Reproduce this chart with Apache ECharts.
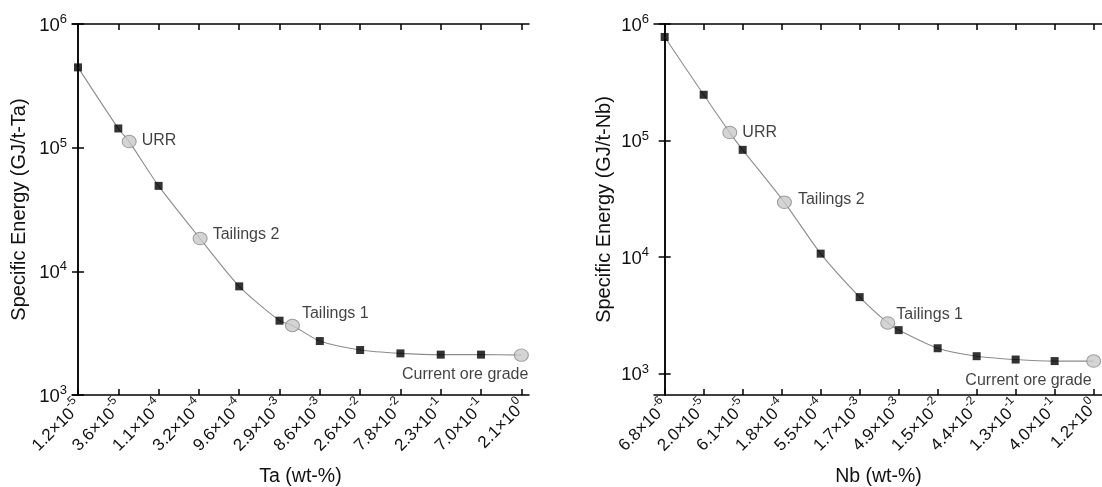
<!DOCTYPE html>
<html>
<head>
<meta charset="utf-8">
<script src="https://cdn.jsdelivr.net/npm/echarts@6/dist/echarts.min.js"></script>
<style>
html,body{margin:0;padding:0;background:#fff;}
#c{width:1102px;height:487px;}
</style>
</head>
<body>
<div id="c"></div>
<script>
// ---- Data ----
const taTickLabels = ['1.2×10^-5','3.6×10^-5','1.1×10^-4','3.2×10^-4','9.6×10^-4','2.9×10^-3','8.6×10^-3','2.6×10^-2','7.8×10^-2','2.3×10^-1','7.0×10^-1','2.1×10^0'];
const nbTickLabels = ['6.8×10^-6','2.0×10^-5','6.1×10^-5','1.8×10^-4','5.5×10^-4','1.7×10^-3','4.9×10^-3','1.5×10^-2','4.4×10^-2','1.3×10^-1','4.0×10^-1','1.2×10^0'];
const yTickValues = [1000, 10000, 100000, 1000000];

// grade position (tick index) and specific energy (GJ/t)
const taSquareX = [0, 1, 2, 4, 5, 6, 7, 8, 9, 10];
const taSquareY = [446000, 143000, 49100, 7560, 3990, 2730, 2310, 2170, 2120, 2120];
const taCircleNames = ['URR', 'Tailings 2', 'Tailings 1', 'Current ore grade'];
const taCircleX = [1.27, 3.03, 5.32, 11];
const taCircleY = [112000, 18400, 3650, 2100];

const nbSquareX = [0, 1, 2, 4, 5, 6, 7, 8, 9, 10];
const nbSquareY = [774000, 247000, 83200, 10700, 4530, 2360, 1650, 1410, 1320, 1280];
const nbCircleNames = ['URR', 'Tailings 2', 'Tailings 1', 'Current ore grade'];
const nbCircleX = [1.67, 3.07, 5.72, 11];
const nbCircleY = [117000, 29500, 2720, 1280];

// ---- Styling / build ----
const FONT = '"Liberation Sans", Arial, sans-serif';
const TXT = '#111';

const labelStyles = {
  left: {
    'URR': {position: 'right', distance: 5, offset: [0, -1]},
    'Tailings 2': {position: 'right', distance: 5, offset: [0, -4]},
    'Tailings 1': {position: 'right', distance: 2, offset: [0, -12]},
    'Current ore grade': {position: 'bottom', align: 'right', distance: 5, offset: [7, 0]}
  },
  right: {
    'URR': {position: 'right', distance: 5, offset: [0, 0]},
    'Tailings 2': {position: 'right', distance: 6, offset: [0, -3]},
    'Tailings 1': {position: 'right', distance: 1, offset: [0, -8]},
    'Current ore grade': {position: 'bottom', align: 'right', distance: 5, offset: [-2, 0]}
  }
};

function xTickFmt(labels) {
  return function (v) {
    const i = Math.round(v);
    if (Math.abs(v - i) > 1e-6 || i < 0 || i >= labels.length) return '';
    const parts = labels[i].split('^');
    return '{b|' + parts[0] + '}{s|' + parts[1] + '}';
  };
}
function yTickFmt(v) {
  const e = Math.round(Math.log10(v));
  if (Math.abs(Math.pow(10, e) - v) > 1e-6 * v) return '';
  return '{b|10}{s|' + e + '}';
}

const ticksIdx = [0,1,2,3,4,5,6,7,8,9,10,11];

function makeAxes(gridIndex, xmin, xmax, ymin, labels, name, yGap) {
  const xAxes = [
    {
      type: 'value', gridIndex, min: xmin, max: xmax, position: 'bottom',
      name, nameLocation: 'middle', nameGap: 72,
      nameTextStyle: {fontFamily: FONT, fontSize: 19.5, color: TXT},
      axisLine: {show: true, lineStyle: {color: '#000', width: 1.5}},
      axisTick: {show: true, inside: true, length: 6, customValues: ticksIdx, lineStyle: {color: '#000', width: 1.5}},
      axisLabel: {
        show: true, rotate: 45, margin: 7, customValues: ticksIdx, formatter: xTickFmt(labels),
        rich: {
          b: {fontFamily: FONT, fontSize: 17, color: TXT, lineHeight: 22, verticalAlign: 'bottom'},
          s: {fontFamily: FONT, fontSize: 12, color: TXT, lineHeight: 22, verticalAlign: 'top'}
        }
      },
      splitLine: {show: false}
    },
    {
      type: 'value', gridIndex, min: xmin, max: xmax, position: 'top',
      axisLine: {show: true, lineStyle: {color: '#000', width: 1.5}},
      axisTick: {show: true, inside: true, length: 6, customValues: ticksIdx, lineStyle: {color: '#000', width: 1.5}},
      axisLabel: {show: false},
      splitLine: {show: false}
    }
  ];
  const yAxes = [
    {
      type: 'log', logBase: 10, gridIndex, min: ymin, max: 1000000, position: 'left',
      name: 'Specific Energy (GJ/t-' + name.split(' ')[0] + ')',
      nameLocation: 'middle', nameGap: yGap, nameRotate: 90,
      nameTextStyle: {fontFamily: FONT, fontSize: 20, color: TXT},
      axisLine: {show: true, lineStyle: {color: '#000', width: 1.5}},
      axisTick: {show: true, inside: true, length: 6, customValues: yTickValues, lineStyle: {color: '#000', width: 1.5}},
      minorTick: {show: false},
      axisLabel: {
        show: true, margin: 5, customValues: yTickValues, formatter: yTickFmt,
        rich: {
          b: {fontFamily: FONT, fontSize: 18.5, color: TXT, lineHeight: 22, verticalAlign: 'bottom'},
          s: {fontFamily: FONT, fontSize: 13, color: TXT, lineHeight: 22, verticalAlign: 'top'}
        }
      },
      splitLine: {show: false}
    },
    {
      type: 'log', logBase: 10, gridIndex, min: ymin, max: 1000000, position: 'right',
      axisLine: {show: true, lineStyle: {color: '#000', width: 1.5}},
      axisTick: {show: true, inside: true, length: 6, customValues: yTickValues, lineStyle: {color: '#000', width: 1.5}},
      axisLabel: {show: false},
      splitLine: {show: false}
    }
  ];
  return {xAxes, yAxes};
}

function makeSeries(axisBase, sqX, sqY, cNames, cX, cY, side) {
  const pts = [];
  sqX.forEach((x, i) => pts.push([x, sqY[i]]));
  cX.forEach((x, i) => pts.push([x, cY[i]]));
  pts.sort((a, b) => a[0] - b[0]);
  const xi = axisBase.x, yi = axisBase.y;
  return [
    {
      type: 'line', xAxisIndex: xi, yAxisIndex: yi, data: pts, showSymbol: false, symbol: 'none',
      smooth: 0.25, lineStyle: {color: '#8c8c8c', width: 1.1}, z: 1, silent: true
    },
    {
      type: 'scatter', xAxisIndex: xi, yAxisIndex: yi, symbol: 'rect', symbolSize: 8,
      itemStyle: {color: '#000'}, data: sqX.map((x, i) => [x, sqY[i]]), z: 3
    },
    {
      type: 'scatter', xAxisIndex: xi, yAxisIndex: yi, symbol: 'circle', symbolSize: [14, 12.5],
      itemStyle: {color: '#c9c9c9', borderColor: '#8a8a8a', borderWidth: 1}, z: 4,
      data: cNames.map((n, i) => {
        const ls = labelStyles[side][n];
        return {
          name: n, value: [cX[i], cY[i]],
          label: Object.assign({show: true, formatter: '{b}', fontFamily: FONT, fontSize: 16, color: TXT}, ls)
        };
      })
    }
  ];
}

const L = makeAxes(0, -0.149, 11.19, 1000, taTickLabels, 'Ta (wt-%)', 43);
const R = makeAxes(1, -0.274, 11.24, 655, nbTickLabels, 'Nb (wt-%)', 40);

const option = {
  backgroundColor: '#fff',
  animation: false,
  grid: [
    {left: 72, top: 24, width: 457, height: 371, containLabel: false, outerBoundsMode: 'none'},
    {left: 654, top: 24, width: 449, height: 371, containLabel: false, outerBoundsMode: 'none'}
  ],
  xAxis: [].concat(L.xAxes, R.xAxes),
  yAxis: [].concat(L.yAxes, R.yAxes),
  series: [].concat(
    makeSeries({x: 0, y: 0}, taSquareX, taSquareY, taCircleNames, taCircleX, taCircleY, 'left'),
    makeSeries({x: 2, y: 2}, nbSquareX, nbSquareY, nbCircleNames, nbCircleX, nbCircleY, 'right')
  )
};

const chart = echarts.init(document.getElementById('c'), null, {renderer: 'canvas'});
chart.setOption(option);
</script>
</body>
</html>
